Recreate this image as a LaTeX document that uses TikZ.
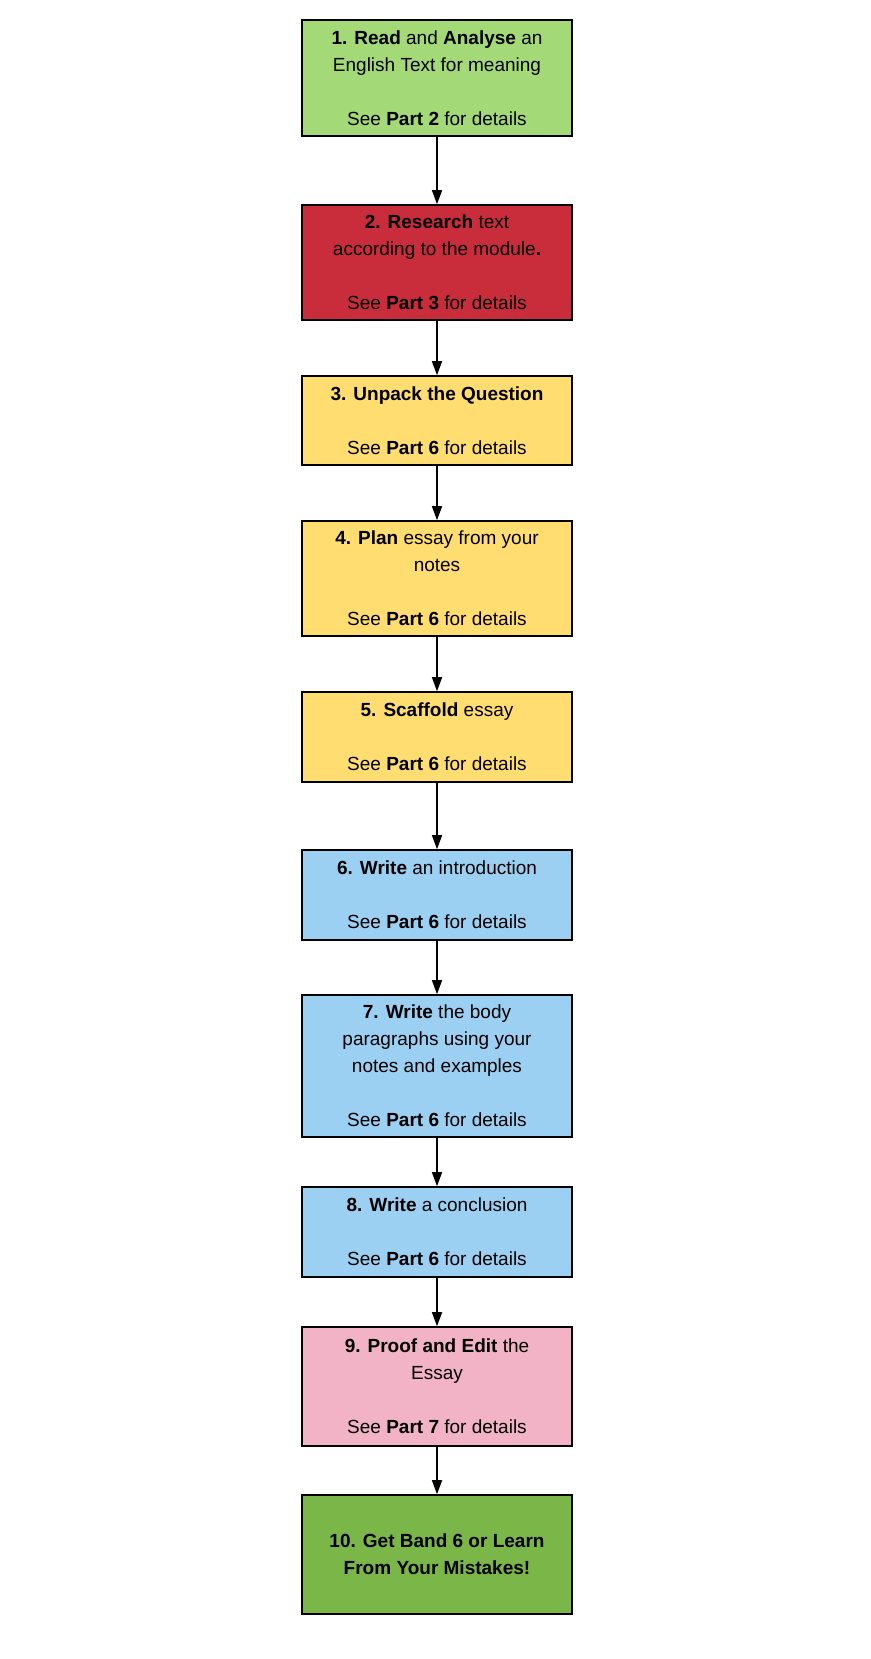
\documentclass[tikz,border=0pt]{standalone}
\usepackage{fontspec}
\setmainfont{Liberation Sans}
\usetikzlibrary{arrows.meta}
\definecolor{cg}{HTML}{A3D977}
\definecolor{cr}{HTML}{C92C3A}
\definecolor{cy}{HTML}{FFDD71}
\definecolor{cb}{HTML}{9BD0F2}
\definecolor{cp}{HTML}{F2B3C6}
\definecolor{cd}{HTML}{7AB648}
\begin{document}
\begin{tikzpicture}[x=1pt,y=1pt,
  stepbox/.style={draw=black,line width=1.6pt,minimum width=270pt,align=center,font=\fontsize{19}{27}\selectfont,inner sep=0pt},
  arr/.style={-{Triangle[length=14pt,width=10pt]},line width=1.4pt}]
\useasboundingbox (0,0) rectangle (870,-1659);
\newcommand\bx[5]{\node[stepbox,fill=#2,minimum height=#4-#3] (#1) at (437,{-(#3+#4)/2}) {#5};}
\bx{n1}{cg}{20}{136}{\textbf{1. Read} and \textbf{Analyse} an\\English Text for meaning\\[27pt]See \textbf{Part 2} for details}
\bx{n2}{cr}{205}{320}{\textbf{2. Research} text\\according to the module\textbf{.}\\[27pt]See \textbf{Part 3} for details}
\bx{n3}{cy}{376}{465}{\textbf{3. Unpack the Question}\\[27pt]See \textbf{Part 6} for details}
\bx{n4}{cy}{521}{636}{\textbf{4. Plan} essay from your\\notes\\[27pt]See \textbf{Part 6} for details}
\bx{n5}{cy}{692}{782}{\textbf{5. Scaffold} essay\\[27pt]See \textbf{Part 6} for details}
\bx{n6}{cb}{850}{940}{\textbf{6. Write} an introduction\\[27pt]See \textbf{Part 6} for details}
\bx{n7}{cb}{995}{1137}{\textbf{7. Write} the body\\paragraphs using your\\notes and examples\\[27pt]See \textbf{Part 6} for details}
\bx{n8}{cb}{1187}{1277}{\textbf{8. Write} a conclusion\\[27pt]See \textbf{Part 6} for details}
\bx{n9}{cp}{1327}{1446}{\textbf{9. Proof and Edit} the\\Essay\\[27pt]See \textbf{Part 7} for details}
\bx{n10}{cd}{1495}{1614}{\textbf{10. Get Band 6 or Learn}\\\textbf{From Your Mistakes!}}
\foreach \a/\b in {n1/n2,n2/n3,n3/n4,n4/n5,n5/n6,n6/n7,n7/n8,n8/n9,n9/n10}
  \draw[arr] (\a.south) -- (\b.north);
\end{tikzpicture}
\end{document}
